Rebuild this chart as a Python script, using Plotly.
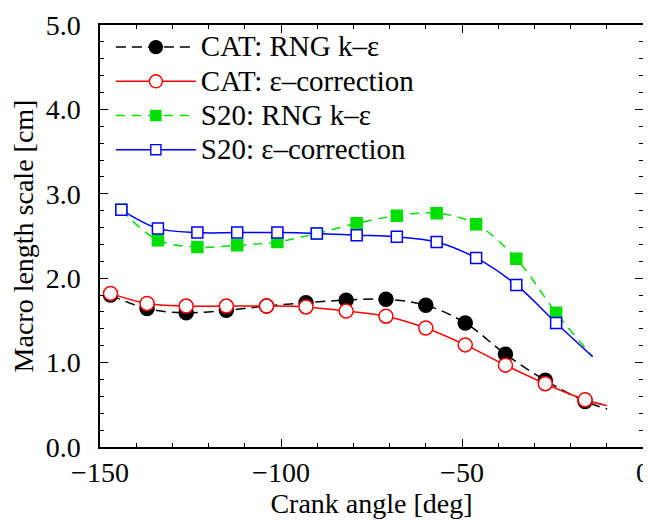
import plotly.graph_objects as go

# Crank angles of the circle-marked (CAT) and square-marked (S20) series
x_cat = [-147.1, -137.0, -126.2, -115.1, -104.0, -93.1, -82.0, -71.0, -60.0, -49.1, -38.0, -27.0, -16.0, -9.9]
x_s20 = [-144.1, -134.0, -123.1, -112.1, -101.0, -90.1, -79.1, -68.0, -57.0, -46.1, -35.0, -24.0, -13.9]

cat_rng = [1.80, 1.64, 1.59, 1.62, 1.67, 1.71, 1.74, 1.75, 1.68, 1.47, 1.10, 0.79, 0.54, 0.45]
cat_eps = [1.82, 1.70, 1.67, 1.67, 1.67, 1.66, 1.61, 1.55, 1.41, 1.21, 0.97, 0.75, 0.56, 0.49]
s20_rng = [2.81, 2.45, 2.37, 2.39, 2.43, 2.53, 2.65, 2.74, 2.77, 2.64, 2.23, 1.59, 1.07]
s20_eps = [2.81, 2.59, 2.54, 2.54, 2.54, 2.53, 2.51, 2.49, 2.43, 2.24, 1.92, 1.47, 1.07]

names = ["CAT: RNG k\u2013\u03b5", "CAT: \u03b5\u2013correction", "S20: RNG k\u2013\u03b5", "S20: \u03b5\u2013correction"]

x_ticks = [-150, -100, -50, 0]
y_ticks = [0.0, 1.0, 2.0, 3.0, 4.0, 5.0]

FONT = "Liberation Serif, Times New Roman, serif"
FS = 28

def arr(n, v):
    return [v] * (n - 1) + [0]

fig = go.Figure()
series = [
    (x_cat, cat_rng, names[0], "black", "10px,6px", "circle", "black", 14),
    (x_cat, cat_eps, names[1], "#ff0000", "solid", "circle", "white", 14),
    (x_s20, s20_rng, names[2], "#00e000", "9px,7px", "square", "#00e000", 11),
    (x_s20, s20_eps, names[3], "#0000ff", "solid", "square", "white", 11),
]
for xs, ys, nm, col, dash, sym, fill, ms in series:
    fig.add_trace(go.Scatter(
        x=xs, y=ys, mode="lines+markers",
        name='<span style="font-size:%dpx">%s</span>' % (FS + 1, nm),
        line=dict(color=col, width=1.5, dash=dash, shape="spline", smoothing=1),
        marker=dict(symbol=sym, size=arr(len(xs), ms), color=fill, opacity=1,
                    line=dict(color=col, width=arr(len(xs), 1.5))),
    ))

axis_common = dict(
    showline=True, linecolor="black", linewidth=1.5, mirror="ticks",
    ticks="inside", ticklen=8, tickwidth=1.2, tickcolor="black",
    showgrid=False, zeroline=False, ticklabeloverflow="allow", automargin=False,
    tickfont=dict(family=FONT, size=FS, color="black"),
)
fig.update_xaxes(
    range=[-150, 0], tickvals=x_ticks, ticklabelstandoff=0,
    minor=dict(ticks="inside", ticklen=4, tickwidth=1, tickcolor="black", dtick=10, tick0=0),
    title=dict(text="Crank angle [deg]", font=dict(family=FONT, size=FS, color="black"), standoff=4),
    **axis_common,
)
fig.update_yaxes(
    range=[0, 5], tickvals=y_ticks, tickformat=".1f", ticklabelstandoff=12,
    minor=dict(ticks="inside", ticklen=4, tickwidth=1, tickcolor="black", dtick=0.2, tick0=0),
    title=dict(text="Macro length scale [cm]", font=dict(family=FONT, size=FS, color="black"), standoff=6),
    **axis_common,
)
fig.update_layout(
    width=651, height=523,
    margin=dict(l=92, r=16, t=17, b=84),
    paper_bgcolor="white", plot_bgcolor="white",
    showlegend=True,
    legend=dict(x=0.02, y=1.0, xanchor="left", yanchor="top",
                bgcolor="rgba(0,0,0,0)", itemwidth=80,
                font=dict(family=FONT, size=24, color="black"),
                tracegroupgap=0),
)
fig.write_html("out.html")
